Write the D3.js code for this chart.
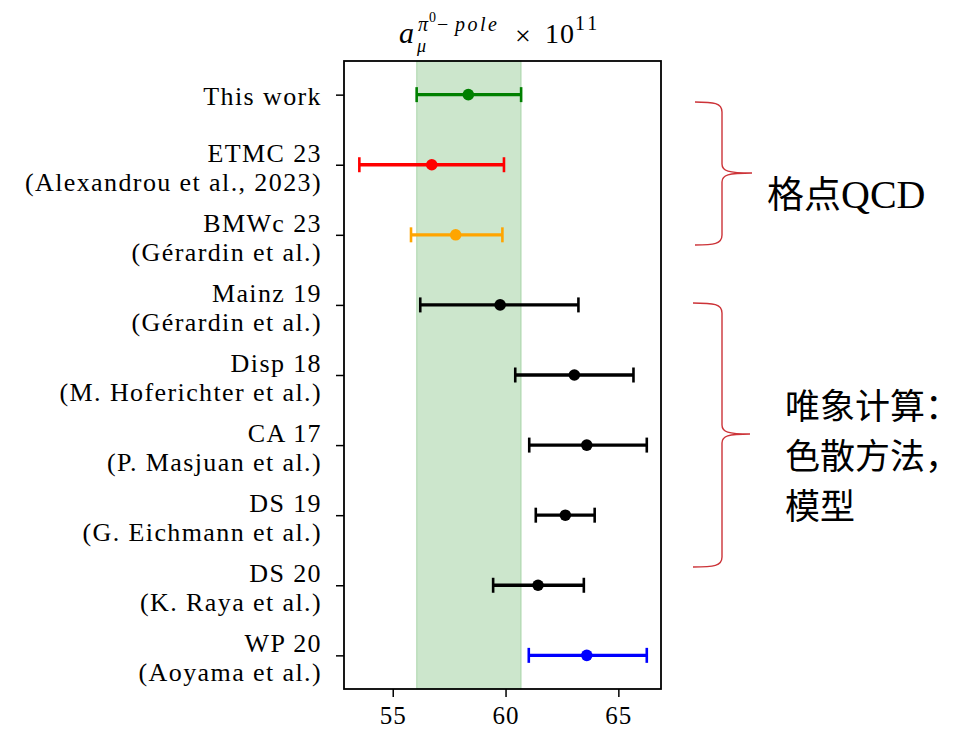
<!DOCTYPE html>
<meta charset="utf-8">

<!-- Load d3.js -->
<script src="https://d3js.org/d3.v7.min.js"></script>

<style>
  body { margin: 0; background: #fff; }
  svg text { font-family: "Liberation Serif", "DejaVu Serif", serif; fill: #000; }
  .cjk { font-family: "Noto Sans CJK SC", sans-serif; }
</style>

<div id="chart"></div>

<script>
  // data
  const names = ["This work", "ETMC 23", "BMWc 23", "Mainz 19", "Disp 18", "CA 17", "DS 19", "DS 20", "WP 20"];
  const refs = ["", "(Alexandrou et al., 2023)", "(Gérardin et al.)", "(Gérardin et al.)",
                "(M. Hoferichter et al.)", "(P. Masjuan et al.)", "(G. Eichmann et al.)",
                "(K. Raya et al.)", "(Aoyama et al.)"];
  const centers = [58.35, 56.73, 57.79, 59.76, 63.05, 63.60, 62.65, 61.44, 63.60];
  const lows    = [56.06, 53.52, 55.81, 56.22, 60.43, 61.05, 61.34, 59.45, 61.03];
  const highs   = [60.69, 59.93, 59.86, 63.23, 65.67, 66.26, 63.95, 63.47, 66.26];
  const colors  = ["green", "red", "orange", "black", "black", "black", "black", "black", "blue"];
  const band = [56.06, 60.69];
  const xTicks = [55, 60, 65];

  const rows = names.map((n, i) => ({name: n, ref: refs[i], c: centers[i], lo: lows[i], hi: highs[i], color: colors[i]}));

  // set the dimensions and margins of the graph
  const W = 963, H = 730;
  const margin = {top: 61, right: 302, bottom: 41, left: 344},
      width = W - margin.left - margin.right,
      height = H - margin.top - margin.bottom;

  const root = d3.select("#chart")
    .append("svg")
      .attr("width", W)
      .attr("height", H);

  const svg = root.append("g")
      .attr("transform", `translate(${margin.left},${margin.top})`);

  // scales
  const x = d3.scaleLinear()
    .domain([52.84, 66.89])
    .range([0, width]);

  const y = d3.scalePoint()
    .domain(names)
    .range([0, height])
    .padding(0.48);

  // shaded band of this work
  svg.append("rect")
    .attr("x", x(band[0]))
    .attr("y", 0)
    .attr("width", x(band[1]) - x(band[0]))
    .attr("height", height)
    .attr("fill", "green")
    .attr("fill-opacity", 0.2)
    .attr("stroke", "green")
    .attr("stroke-opacity", 0.2)
    .attr("stroke-width", 1.2);

  // error bars
  const bars = svg.selectAll("g.bar")
    .data(rows)
    .join("g")
      .attr("class", "bar")
      .attr("transform", d => `translate(0,${y(d.name)})`);

  bars.append("line")
    .attr("x1", d => x(d.lo))
    .attr("x2", d => x(d.hi))
    .attr("stroke", d => d.color)
    .attr("stroke-width", 3.3);

  bars.selectAll("line.cap")
    .data(d => [{v: d.lo, color: d.color}, {v: d.hi, color: d.color}])
    .join("line")
      .attr("class", "cap")
      .attr("x1", d => x(d.v))
      .attr("x2", d => x(d.v))
      .attr("y1", -7.5)
      .attr("y2", 7.5)
      .attr("stroke", d => d.color)
      .attr("stroke-width", 2.6);

  bars.append("circle")
    .attr("cx", d => x(d.c))
    .attr("r", 5.8)
    .attr("fill", d => d.color);

  // X axis
  const xAxis = svg.append("g")
    .attr("transform", `translate(0,${height})`)
    .call(d3.axisBottom(x).tickValues(xTicks).tickSize(8).tickPadding(9.5));
  xAxis.select(".domain").remove();
  xAxis.selectAll("line").attr("stroke-width", 1.5);
  xAxis.selectAll("text")
    .style("font-family", "\"Liberation Serif\", serif")
    .style("font-size", "25px")
    .style("letter-spacing", "1px");

  // Y axis (ticks only, labels drawn below)
  const yAxis = svg.append("g")
    .call(d3.axisLeft(y).tickSize(8).tickFormat(""));
  yAxis.select(".domain").remove();
  yAxis.selectAll("line").attr("stroke-width", 1.5);

  const lab = svg.selectAll("text.ylab")
    .data(rows)
    .join("text")
      .attr("class", "ylab")
      .attr("text-anchor", "end")
      .style("font-size", "26px")
      .style("letter-spacing", "1.4px");

  lab.append("tspan")
    .attr("x", -22)
    .attr("y", d => d.ref ? y(d.name) - 3 : y(d.name) + 10)
    .text(d => d.name);

  lab.filter(d => d.ref).append("tspan")
    .attr("x", -22)
    .attr("y", d => y(d.name) + 26)
    .text(d => d.ref);

  // frame
  svg.append("rect")
    .attr("width", width)
    .attr("height", height)
    .attr("fill", "none")
    .attr("stroke", "black")
    .attr("stroke-width", 1.8);

  // title: a_mu^{pi0-pole} x 10^11
  const title = root.append("g");
  title.append("text").attr("x", 399).attr("y", 43)
    .style("font-size", "30px").style("font-style", "italic").text("a");
  title.append("text").attr("x", 417).attr("y", 52)
    .style("font-size", "18px").style("font-style", "italic").text("μ");
  title.append("text").attr("x", 418).attr("y", 31)
    .style("font-size", "20px").style("font-style", "italic").text("π");
  title.append("text").attr("x", 429).attr("y", 22)
    .style("font-size", "14px").text("0");
  title.append("text").attr("x", 437).attr("y", 31)
    .style("font-size", "20px").text("−");
  title.append("text").attr("x", 455).attr("y", 31)
    .style("font-size", "20px").style("font-style", "italic")
    .style("letter-spacing", "2.5px").text("pole");
  title.append("text").attr("x", 515).attr("y", 45)
    .style("font-size", "28px").text("×");
  title.append("text").attr("x", 545).attr("y", 43)
    .style("font-size", "28px").style("letter-spacing", "1px").text("10");
  title.append("text").attr("x", 575).attr("y", 30)
    .style("font-size", "20px").style("letter-spacing", "3px").text("11");

  // right-hand annotations: braces and group names
  const braceColor = "#cc3338";
  const braces = [
    {x0: 695, x1: 722, tip: 752, top: 102, mid: 173, bottom: 245},
    {x0: 693, x1: 722, tip: 750, top: 303, mid: 434, bottom: 567}
  ];
  function bracePath(b) {
    const p = d3.path();
    p.moveTo(b.x0, b.top);
    p.bezierCurveTo(b.x1 - 8, b.top, b.x1, b.top + 1, b.x1, b.top + 10);
    p.lineTo(b.x1, b.mid - 9);
    p.bezierCurveTo(b.x1, b.mid - 2, b.x1 + 6, b.mid, b.tip, b.mid);
    p.bezierCurveTo(b.x1 + 6, b.mid, b.x1, b.mid + 2, b.x1, b.mid + 9);
    p.lineTo(b.x1, b.bottom - 10);
    p.bezierCurveTo(b.x1, b.bottom - 1, b.x1 - 8, b.bottom, b.x0, b.bottom);
    return p.toString();
  }
  root.selectAll("path.brace")
    .data(braces)
    .join("path")
      .attr("class", "brace")
      .attr("d", bracePath)
      .attr("fill", "none")
      .attr("stroke", braceColor)
      .attr("stroke-width", 1.4);

  const g1 = root.append("text").attr("x", 767).attr("y", 208);
  g1.append("tspan").attr("class", "cjk").style("font-size", "37px").text("格点");
  g1.append("tspan").style("font-size", "40px").text("QCD");

  const phenoLines = ["唯象计算：", "色散方法，", "模型"];
  root.selectAll("text.pheno")
    .data(phenoLines)
    .join("text")
      .attr("class", "pheno cjk")
      .attr("x", 785)
      .attr("y", (d, i) => 419 + i * 50)
      .style("font-size", "35px")
      .text(d => d);
</script>
